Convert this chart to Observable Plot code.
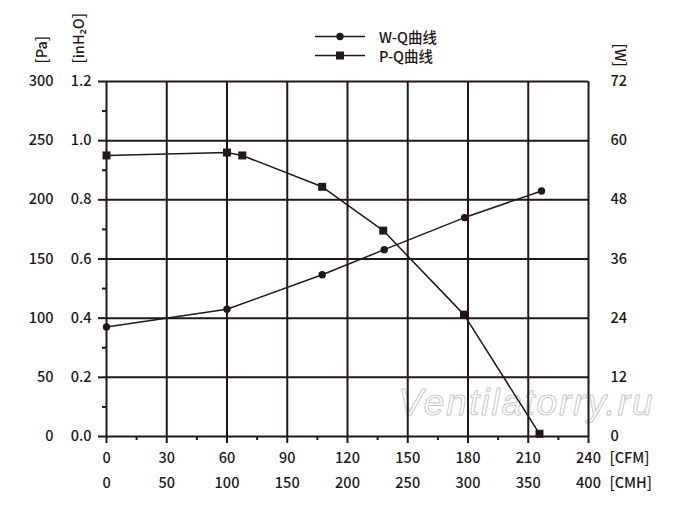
<!DOCTYPE html>
<html><head><meta charset="utf-8">
<script src="https://cdn.jsdelivr.net/npm/d3@7"></script>
<script src="https://cdn.jsdelivr.net/npm/@observablehq/plot@0.6"></script>
<style>
body{margin:0;background:#fff;}
#wrap{position:relative;width:700px;height:511px;font-family:"Noto Sans CJK SC","Noto Sans",sans-serif;color:#231815;}
#legend{position:absolute;left:315px;top:27px;font-size:14.5px;line-height:19px;font-weight:500;}
#legend .row{display:flex;align-items:center;height:19px;}
#legend svg{margin-right:14px;}
</style></head><body>
<div id="wrap"><div id="chart"></div><div id="legend"></div></div>
<script>
// P-Q curve (static pressure vs airflow)
const flowCFM_PQ = [0, 60, 67.6, 107.4, 137.8, 178, 215.6];
const pressurePa = [237.5, 240, 237.5, 211, 174, 103, 2.3];
// W-Q curve (power vs airflow)
const flowCFM_WQ = [0, 60, 107.4, 138.3, 178.3, 216.6];
const powerW = [22.2, 25.8, 32.8, 37.9, 44.4, 49.8];
// ticks
const xTicksCFM = [0, 30, 60, 90, 120, 150, 180, 210, 240];
const yTicksPa = [0, 50, 100, 150, 200, 250, 300];
const seriesNames = ["W-Q曲线", "P-Q曲线"];
const watermark = "Ventilatorry.ru";

const ink = "#231815";
const font = "'Noto Sans CJK SC','Noto Sans',sans-serif";
const paPerW = 300 / 72;      // W axis 0..72 mapped onto Pa axis 0..300
const paPerInH2O = 250;       // 1.2 inH2O = 300 Pa
const cmhPerCfm = 5 / 3;      // 240 CFM = 400 CMH

const pq = flowCFM_PQ.map((q, i) => ({q, p: pressurePa[i]}));
const wq = flowCFM_WQ.map((q, i) => ({q, p: powerW[i] * paPerW}));
const minorX = xTicksCFM.slice(0, -1).map((d, i) => (d + xTicksCFM[i + 1]) / 2);
const minorY = yTicksPa.slice(0, -1).map((d, i) => (d + yTicksPa[i + 1]) / 2);
const blank = () => "";

const chart = Plot.plot({
  width: 700, height: 511,
  marginLeft: 106, marginRight: 112, marginTop: 81, marginBottom: 75,
  style: {fontFamily: font, fontSize: "14.5px", fontWeight: 500, color: ink, background: "#fff", overflow: "visible"},
  x: {domain: [0, 240]},
  y: {domain: [0, 300]},
  marks: [
    Plot.text([watermark], {frameAnchor: "bottom-right", dx: 64, dy: -22, textAnchor: "end", lineAnchor: "bottom",
      fontSize: 37, fontStyle: "italic", fontFamily: "'Liberation Sans',sans-serif", fill: "#fff",
      stroke: "#c9c9c9", strokeWidth: 1, paintOrder: "fill", className: "wm"}),
    Plot.gridX(xTicksCFM, {stroke: ink, strokeOpacity: 1, strokeWidth: 2}),
    Plot.gridY(yTicksPa, {stroke: ink, strokeOpacity: 1, strokeWidth: 2}),
    // minor ticks
    Plot.axisX({ticks: minorX, tickSize: 4, tickFormat: blank, stroke: ink, strokeWidth: 2, label: null}),
    Plot.axisY({ticks: minorY, tickSize: 4, tickFormat: blank, stroke: ink, strokeWidth: 2, label: null}),
    // bottom axes: CFM and CMH
    Plot.axisX({ticks: xTicksCFM, tickSize: 7, tickPadding: 9, stroke: ink, strokeWidth: 2, fill: ink, label: null}),
    Plot.axisX({ticks: xTicksCFM, tickSize: 0, tickPadding: 41, fill: ink, label: null,
      tickFormat: d => Math.round(d * cmhPerCfm)}),
    // left axes: Pa and inH2O
    Plot.axisY({ticks: yTicksPa, tickSize: 0, tickPadding: 53, fill: ink, label: null}),
    Plot.axisY({ticks: yTicksPa, tickSize: 8, tickPadding: 7, stroke: ink, strokeWidth: 2, fill: ink, label: null,
      tickFormat: d => (d / paPerInH2O).toFixed(1)}),
    // right axis: W
    Plot.axisY({anchor: "right", ticks: yTicksPa, tickSize: 0, tickPadding: 22, fill: ink, label: null,
      tickFormat: d => Math.round(d / paPerW)}),
    // unit labels
    Plot.text(["[Pa]"], {frameAnchor: "top-left", rotate: -90, dx: -64, dy: -18, textAnchor: "start", lineAnchor: "middle", fill: ink}),
    Plot.text(["[inH₂O]"], {frameAnchor: "top-left", rotate: -90, dx: -27, dy: -18, textAnchor: "start", lineAnchor: "middle", fill: ink}),
    Plot.text(["[W]"], {frameAnchor: "top-right", rotate: 90, dx: 31, dy: -38, textAnchor: "start", lineAnchor: "middle", fill: ink}),
    Plot.text(["[CFM]"], {frameAnchor: "bottom-right", dx: 21, dy: 16, textAnchor: "start", lineAnchor: "top", fill: ink}),
    Plot.text(["[CMH]"], {frameAnchor: "bottom-right", dx: 21, dy: 41, textAnchor: "start", lineAnchor: "top", fill: ink}),
    // data
    Plot.line(pq, {x: "q", y: "p", stroke: ink, strokeWidth: 1.5}),
    Plot.line(wq, {x: "q", y: "p", stroke: ink, strokeWidth: 1.5}),
    Plot.dot(pq, {x: "q", y: "p", symbol: "square", r: 4.5, fill: ink}),
    Plot.dot(wq, {x: "q", y: "p", symbol: "circle", r: 3.7, fill: ink})
  ]
});
document.getElementById("chart").appendChild(chart);
d3.select(chart).selectAll(".wm text").attr("textLength", 254).attr("lengthAdjust", "spacing");

// legend
const legend = d3.select("#legend");
const symbols = ["circle", "square"];
seriesNames.forEach((name, i) => {
  const row = legend.append("div").attr("class", "row");
  const s = row.append("svg").attr("width", 50).attr("height", 19);
  s.append("line").attr("x1", 0).attr("x2", 50).attr("y1", 9.5).attr("y2", 9.5).attr("stroke", ink).attr("stroke-width", 1.5);
  if (symbols[i] === "circle") s.append("circle").attr("cx", 25).attr("cy", 9.5).attr("r", 3.7).attr("fill", ink);
  else s.append("rect").attr("x", 21).attr("y", 5.5).attr("width", 8).attr("height", 8).attr("fill", ink);
  row.append("span").text(name);
});
</script>
</body></html>
